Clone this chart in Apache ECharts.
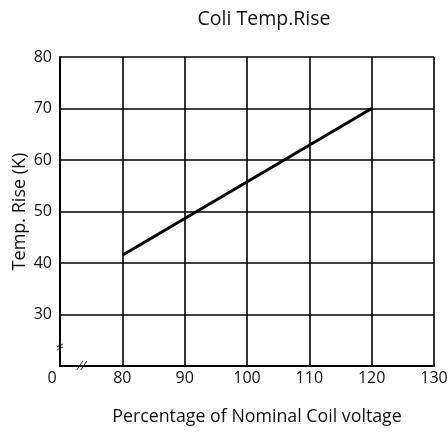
<!DOCTYPE html>
<html><head><meta charset="utf-8">
<script src="https://cdn.jsdelivr.net/npm/echarts@6/dist/echarts.min.js"></script>
<style>html,body{margin:0;padding:0;background:#fff}#c{width:448px;height:433px}</style>
</head><body><div id="c"></div>
<script>
const titleText = "Coli Temp.Rise";
const xName = "Percentage of Nominal Coil voltage";
const yName = "Temp. Rise (K)";
const xVoltage = [80, 120];
const yTempRise = [41.5, 70];
const xTickLabels = {70: "0", 80: "80", 90: "90", 100: "100", 110: "110", 120: "120", 130: "130"};
const yTickLabels = {20: "", 30: "30", 40: "40", 50: "50", 60: "60", 70: "70", 80: "80"};

const font = "'Open Sans', sans-serif";
const chart = echarts.init(document.getElementById('c'));
chart.setOption({
  animation: false,
  title: {text: titleText, left: 259, top: 4, textAlign: 'center',
    textStyle: {fontFamily: font, fontSize: 19.5, fontWeight: 'normal', color: '#111'}},
  grid: {left: 60, right: 14, top: 57, bottom: 67, outerBoundsMode: 'none', containLabel: false},
  xAxis: {type: 'value', min: 70, max: 130, interval: 10,
    name: xName, nameLocation: 'middle', nameGap: 42, nameMoveOverlap: false,
    nameTextStyle: {fontFamily: font, fontSize: 17.8, color: '#111', padding: [0, 0, 0, 20]},
    axisLine: {lineStyle: {color: '#000', width: 2}},
    axisTick: {show: false},
    axisLabel: {fontFamily: font, fontSize: 16, color: '#111', margin: 4,
      formatter: v => v === 70 ? '{z|' + xTickLabels[v] + '}' : (xTickLabels[v] ?? ''),
      rich: {z: {fontFamily: font, fontSize: 16, color: '#111', padding: [0, 16, 0, 0]}}},
    splitLine: {show: true, lineStyle: {color: '#000', width: 1.6}}},
  yAxis: {type: 'value', min: 20, max: 80, interval: 10,
    name: yName, nameLocation: 'middle', nameGap: 31, nameMoveOverlap: false,
    nameTextStyle: {fontFamily: font, fontSize: 18, color: '#111'},
    axisLine: {show: true, lineStyle: {color: '#000', width: 2}},
    axisTick: {show: false},
    axisLabel: {fontFamily: font, fontSize: 16, color: '#111', margin: 8,
      formatter: v => yTickLabels[v] ?? ''},
    splitLine: {show: true, lineStyle: {color: '#000', width: 1.6}}},
  series: [{type: 'line', data: xVoltage.map((x, i) => [x, yTempRise[i]]),
    symbol: 'none', lineStyle: {color: '#000', width: 3}}]
});
// axis break marks
const pY = chart.convertToPixel({gridIndex: 0}, [70, 23.7]);
const pX = chart.convertToPixel({gridIndex: 0}, [73.5, 20]);
chart.setOption({graphic: [
  ...[-1.5, 1.5].map(o => ({type: 'line', shape: {x1: pY[0] - 3, y1: pY[1] + o + 1.5, x2: pY[0] + 3, y2: pY[1] + o - 1.5}, style: {stroke: '#333', lineWidth: 1}})),
  ...[-2, 2].map(o => ({type: 'line', shape: {x1: pX[0] + o - 3, y1: pX[1] + 4, x2: pX[0] + o + 3, y2: pX[1] - 5}, style: {stroke: '#333', lineWidth: 1}}))
]});
</script></body></html>
